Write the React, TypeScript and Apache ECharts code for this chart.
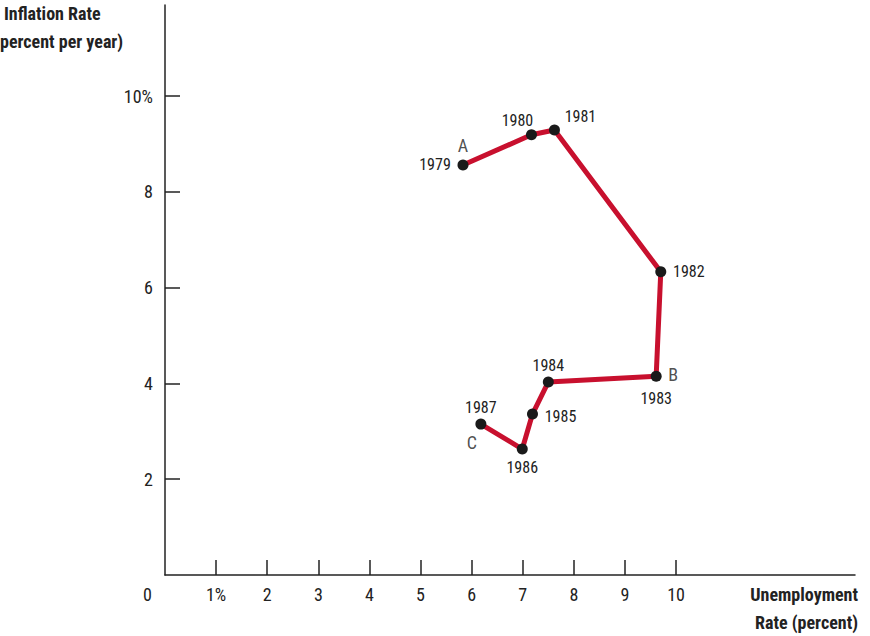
import React, { useEffect, useRef } from 'react'
import * as echarts from 'echarts'

const years = ['1979', '1980', '1981', '1982', '1983', '1984', '1985', '1986', '1987']
const unemployment = [5.83, 7.17, 7.62, 9.7, 9.61, 7.5, 7.19, 6.99, 6.18]
const inflation = [8.56, 9.19, 9.29, 6.33, 4.15, 4.03, 3.36, 2.63, 3.15]
const yearLabelPos: [number, number][] = [
  [-28, 0], [-14, -14], [26, -14], [28, 0], [0, 22], [0, -16], [28, 2], [0, 18], [0, -17],
]
const letters = ['A', 'B', 'C']
const letterIdx = [0, 4, 8]
const letterOffset: [number, number][] = [[0, -19], [17, -2], [-9, 18]]
const xTicks = [1, 2, 3, 4, 5, 6, 7, 8, 9, 10]
const yTicks = [2, 4, 6, 8, 10]

const FONT = '"Liberation Sans Narrow", "Roboto Condensed", Roboto, sans-serif'

export default function App() {
  const ref = useRef<HTMLDivElement>(null)
  useEffect(() => {
    document.body.style.margin = '0'
    const chart = echarts.init(ref.current as HTMLDivElement, undefined, { renderer: 'svg' })
    chart.setOption({
      animation: false,
      textStyle: { fontFamily: FONT },
      grid: { left: 165, top: 5, right: 15, bottom: 61 },
      xAxis: {
        type: 'value', min: 0, max: 13.5, splitLine: { show: false },
        axisLine: { lineStyle: { color: '#222', width: 1.5 } },
        axisTick: { customValues: xTicks, inside: true, length: 15, lineStyle: { color: '#222', width: 1.5 } },
        axisLabel: {
          customValues: xTicks, color: '#222', fontSize: 18, margin: 10, fontFamily: FONT,
          formatter: (v: number) => (v === 1 ? '1%' : String(v)),
        },
      },
      yAxis: {
        type: 'value', min: 0, max: 11.9, splitLine: { show: false },
        axisLine: { lineStyle: { color: '#222', width: 1.5 } },
        axisTick: { customValues: yTicks, inside: true, length: 15, lineStyle: { color: '#222', width: 1.5 } },
        axisLabel: {
          customValues: yTicks, color: '#222', fontSize: 18, margin: 12, fontFamily: FONT,
          formatter: (v: number) => (v === 10 ? '10%' : String(v)),
        },
      },
      graphic: [
        { type: 'text', left: 143, top: 585, style: { text: '0', fontSize: 18, fill: '#222', fontFamily: FONT } },
        { type: 'text', left: 4, top: 4, style: { text: 'Inflation Rate', fontSize: 18, fontWeight: 'bold', fill: '#222', fontFamily: FONT } },
        { type: 'text', left: 0, top: 32, style: { text: 'percent per year)', fontSize: 18, fontWeight: 'bold', fill: '#222', fontFamily: FONT } },
        { type: 'text', right: 12, top: 585, style: { text: 'Unemployment', fontSize: 18, fontWeight: 'bold', fill: '#222', fontFamily: FONT } },
        { type: 'text', right: 12, top: 613, style: { text: 'Rate (percent)', fontSize: 18, fontWeight: 'bold', fill: '#222', fontFamily: FONT } },
      ],
      series: [
        {
          type: 'line',
          data: years.map((y, i) => ({
            value: [unemployment[i], inflation[i]],
            label: { show: true, formatter: y, position: 'inside', offset: yearLabelPos[i] },
          })),
          lineStyle: { color: '#c8102e', width: 5 },
          symbol: 'circle', symbolSize: 11,
          itemStyle: { color: '#1a1a1a' },
          label: { color: '#222', fontSize: 16, fontFamily: FONT },
          z: 3,
        },
        {
          type: 'scatter',
          symbolSize: 0,
          data: letters.map((l, k) => ({
            value: [unemployment[letterIdx[k]], inflation[letterIdx[k]]],
            label: { show: true, formatter: l, position: 'inside', offset: letterOffset[k] },
          })),
          label: { color: '#222', fontSize: 18, fontFamily: FONT },
        },
      ],
    })
    return () => chart.dispose()
  }, [])
  return <div ref={ref} style={{ width: 870, height: 636 }} />
}
